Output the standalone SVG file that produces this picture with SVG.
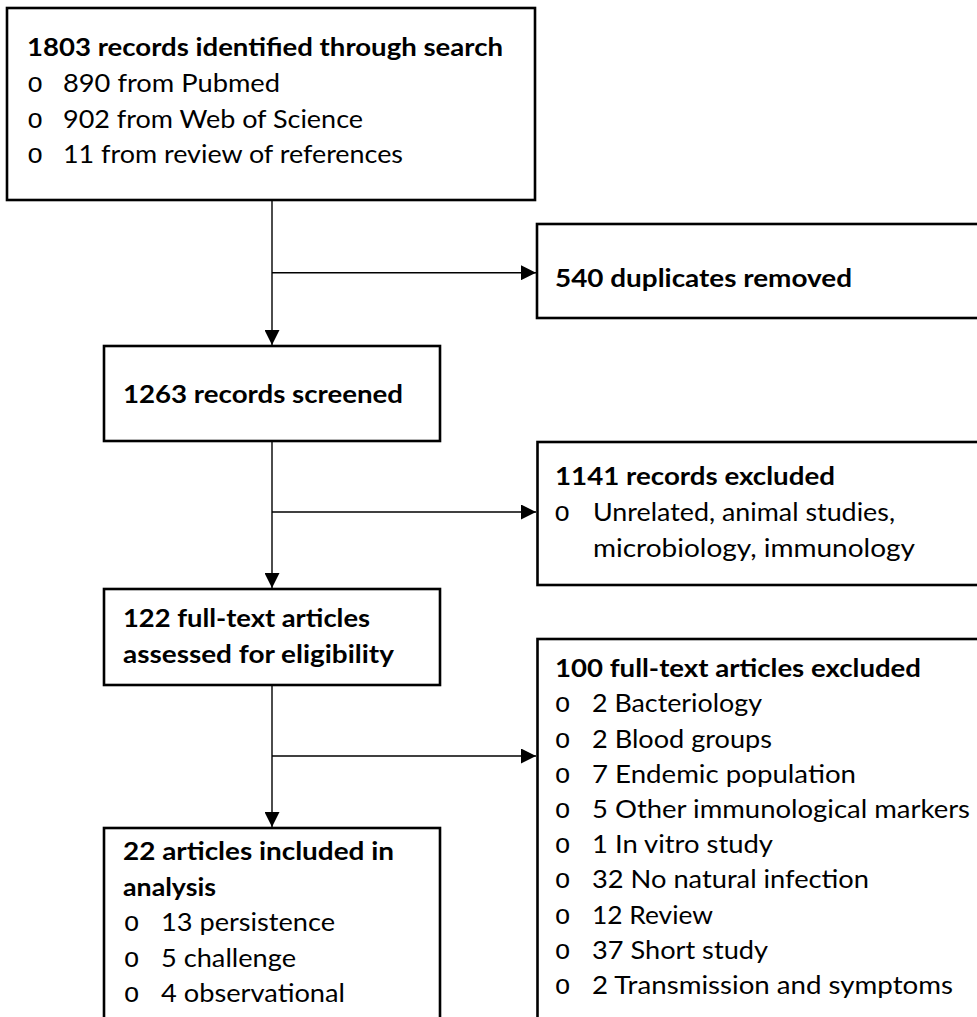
<svg xmlns="http://www.w3.org/2000/svg" width="977" height="1017" viewBox="0 0 977 1017">
<style>
.bg{fill:#fff}
.box{fill:#fff;stroke:#000;stroke-width:2.6}
.t{font-family:Lato,"Open Sans","Liberation Sans",sans-serif;font-size:24.5px;fill:#000}
.b{font-weight:700}
.o{font-family:"Liberation Mono","Courier New",monospace;font-size:27px;fill:#000;text-anchor:middle}
.c{stroke:#000;stroke-width:1.4;fill:none}
</style>
<defs>
<marker id="ah" markerUnits="userSpaceOnUse" viewBox="0 0 15 15" refX="15" refY="7.5" markerWidth="15" markerHeight="15" orient="auto">
<path d="M0,0 L15,7.5 L0,15 z" fill="#000"/>
</marker>
</defs>
<rect class="bg" x="0" y="0" width="977" height="1017"/>
<g id="connectors">
<path class="c" d="M272,200 V345" marker-end="url(#ah)"/>
<path class="c" d="M272,272.7 H536" marker-end="url(#ah)"/>
<path class="c" d="M272,441 V588" marker-end="url(#ah)"/>
<path class="c" d="M272,512 H536" marker-end="url(#ah)"/>
<path class="c" d="M272,685 V827" marker-end="url(#ah)"/>
<path class="c" d="M272,756 H536" marker-end="url(#ah)"/>
</g>
<g id="n1">
<rect class="box" x="7" y="8" width="528" height="192"/>
<text class="t b" x="27" y="56" textLength="476" lengthAdjust="spacingAndGlyphs">1803 records identified through search</text>
<text class="o" x="35" y="92">o</text>
<text class="t" x="63" y="92" textLength="217" lengthAdjust="spacingAndGlyphs">890 from Pubmed</text>
<text class="o" x="35" y="127.5">o</text>
<text class="t" x="63" y="127.5" textLength="300" lengthAdjust="spacingAndGlyphs">902 from Web of Science</text>
<text class="o" x="35" y="163">o</text>
<text class="t" x="63" y="163" textLength="340" lengthAdjust="spacingAndGlyphs">11 from review of references</text>
</g>
<g id="n2">
<rect class="box" x="537" y="224" width="450" height="94"/>
<text class="t b" x="555" y="287" textLength="297" lengthAdjust="spacingAndGlyphs">540 duplicates removed</text>
</g>
<g id="n3">
<rect class="box" x="104" y="346" width="336" height="95"/>
<text class="t b" x="123" y="403" textLength="280" lengthAdjust="spacingAndGlyphs">1263 records screened</text>
</g>
<g id="n4">
<rect class="box" x="537.5" y="442" width="450" height="143"/>
<text class="t b" x="555" y="485" textLength="280" lengthAdjust="spacingAndGlyphs">1141 records excluded</text>
<text class="o" x="562" y="521">o</text>
<text class="t" x="593" y="521" textLength="302" lengthAdjust="spacingAndGlyphs">Unrelated, animal studies,</text>
<text class="t" x="593" y="557" textLength="322" lengthAdjust="spacingAndGlyphs">microbiology, immunology</text>
</g>
<g id="n5">
<rect class="box" x="104" y="589" width="336" height="96"/>
<text class="t b" x="123" y="627" textLength="247" lengthAdjust="spacingAndGlyphs">122 full-text articles</text>
<text class="t b" x="123" y="663" textLength="271" lengthAdjust="spacingAndGlyphs">assessed for eligibility</text>
</g>
<g id="n6">
<rect class="box" x="537.5" y="639" width="450" height="400"/>
<text class="t b" x="555" y="677" textLength="366" lengthAdjust="spacingAndGlyphs">100 full-text articles excluded</text>
<text class="o" x="562.5" y="712">o</text>
<text class="t" x="592" y="712" textLength="170" lengthAdjust="spacingAndGlyphs">2 Bacteriology</text>
<text class="o" x="562.5" y="747.5">o</text>
<text class="t" x="592" y="747.5" textLength="180" lengthAdjust="spacingAndGlyphs">2 Blood groups</text>
<text class="o" x="562.5" y="782.5">o</text>
<text class="t" x="592" y="782.5" textLength="264" lengthAdjust="spacingAndGlyphs">7 Endemic population</text>
<text class="o" x="562.5" y="818">o</text>
<text class="t" x="592" y="818" textLength="378" lengthAdjust="spacingAndGlyphs">5 Other immunological markers</text>
<text class="o" x="562.5" y="853">o</text>
<text class="t" x="592" y="853" textLength="181" lengthAdjust="spacingAndGlyphs">1 In vitro study</text>
<text class="o" x="562.5" y="888">o</text>
<text class="t" x="592" y="888" textLength="277" lengthAdjust="spacingAndGlyphs">32 No natural infection</text>
<text class="o" x="562.5" y="923.5">o</text>
<text class="t" x="592" y="923.5" textLength="121" lengthAdjust="spacingAndGlyphs">12 Review</text>
<text class="o" x="562.5" y="959">o</text>
<text class="t" x="592" y="959" textLength="176" lengthAdjust="spacingAndGlyphs">37 Short study</text>
<text class="o" x="562.5" y="994">o</text>
<text class="t" x="592" y="994" textLength="361" lengthAdjust="spacingAndGlyphs">2 Transmission and symptoms</text>
</g>
<g id="n7">
<rect class="box" x="104" y="828" width="336" height="220"/>
<text class="t b" x="123" y="860" textLength="271" lengthAdjust="spacingAndGlyphs">22 articles included in</text>
<text class="t b" x="123" y="895.5" textLength="93" lengthAdjust="spacingAndGlyphs">analysis</text>
<text class="o" x="131.5" y="931">o</text>
<text class="t" x="161" y="931" textLength="174" lengthAdjust="spacingAndGlyphs">13 persistence</text>
<text class="o" x="131.5" y="966.5">o</text>
<text class="t" x="161" y="966.5" textLength="135" lengthAdjust="spacingAndGlyphs">5 challenge</text>
<text class="o" x="131.5" y="1002">o</text>
<text class="t" x="161" y="1002" textLength="184" lengthAdjust="spacingAndGlyphs">4 observational</text>
</g>
</svg>
